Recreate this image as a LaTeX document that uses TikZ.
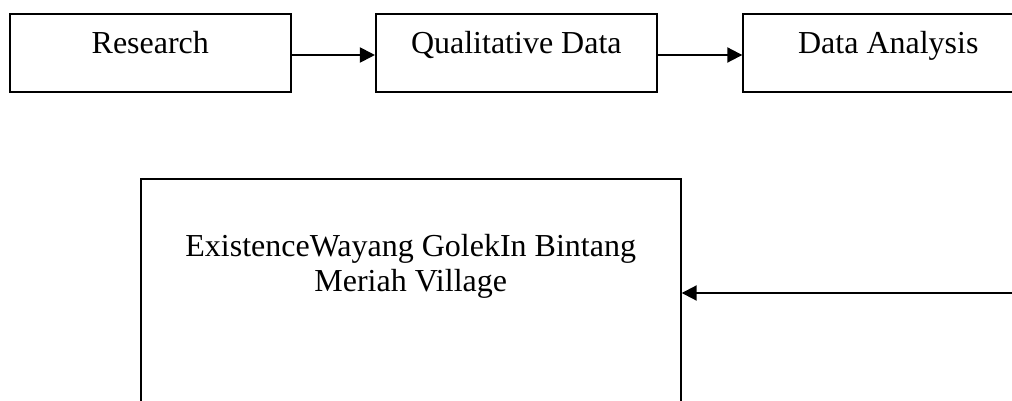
\documentclass[tikz,border=0pt]{standalone}
\usepackage{fontspec}
\setmainfont{Liberation Serif}
\usetikzlibrary{arrows.meta}
\begin{document}
\begin{tikzpicture}[x=1pt,y=-1pt,
  box/.style={draw=black,line width=2pt,rectangle,inner sep=0pt,
    text height=40pt,text depth=38pt,font=\fontsize{32}{36}\selectfont},
  bigbox/.style={draw=black,line width=2pt,rectangle,inner sep=0pt},
  txt/.style={inner sep=0pt,anchor=base,font=\fontsize{32}{36}\selectfont},
  arr/.style={line width=2pt,-{Triangle[length=15pt,width=15pt]}}]
\useasboundingbox (0,0) rectangle (1012,401);
\clip (0,0) rectangle (1012,401);
\fill[white] (0,0) rectangle (1012,401);
\node[box,minimum width=280.7pt,anchor=base] (res) at (150.3,54) {Research};
\node[box,minimum width=280.7pt,anchor=base] (qual) at (516.3,54) {Qualitative Data};
\node[box,minimum width=290pt,anchor=base] (ana) at (888.3,54) {Data Analysis};
\draw[arr] ([yshift=-2pt]res.east) -- ([yshift=-2pt]qual.west);
\draw[arr] ([yshift=-2pt]qual.east) -- ([yshift=-2pt]ana.west);
\node[bigbox,minimum width=540pt,minimum height=280pt,anchor=north] (exist) at (410.7,178.3) {};
\node[txt] (l1) at (410.7,256.7) {ExistenceWayang GolekIn Bintang};
\node[txt] (l2) at (410.7,291.5) {Meriah Village};
\coordinate (src) at (1020,293);
\draw[arr] (src) -- (src -| exist.east);
\end{tikzpicture}
\end{document}
